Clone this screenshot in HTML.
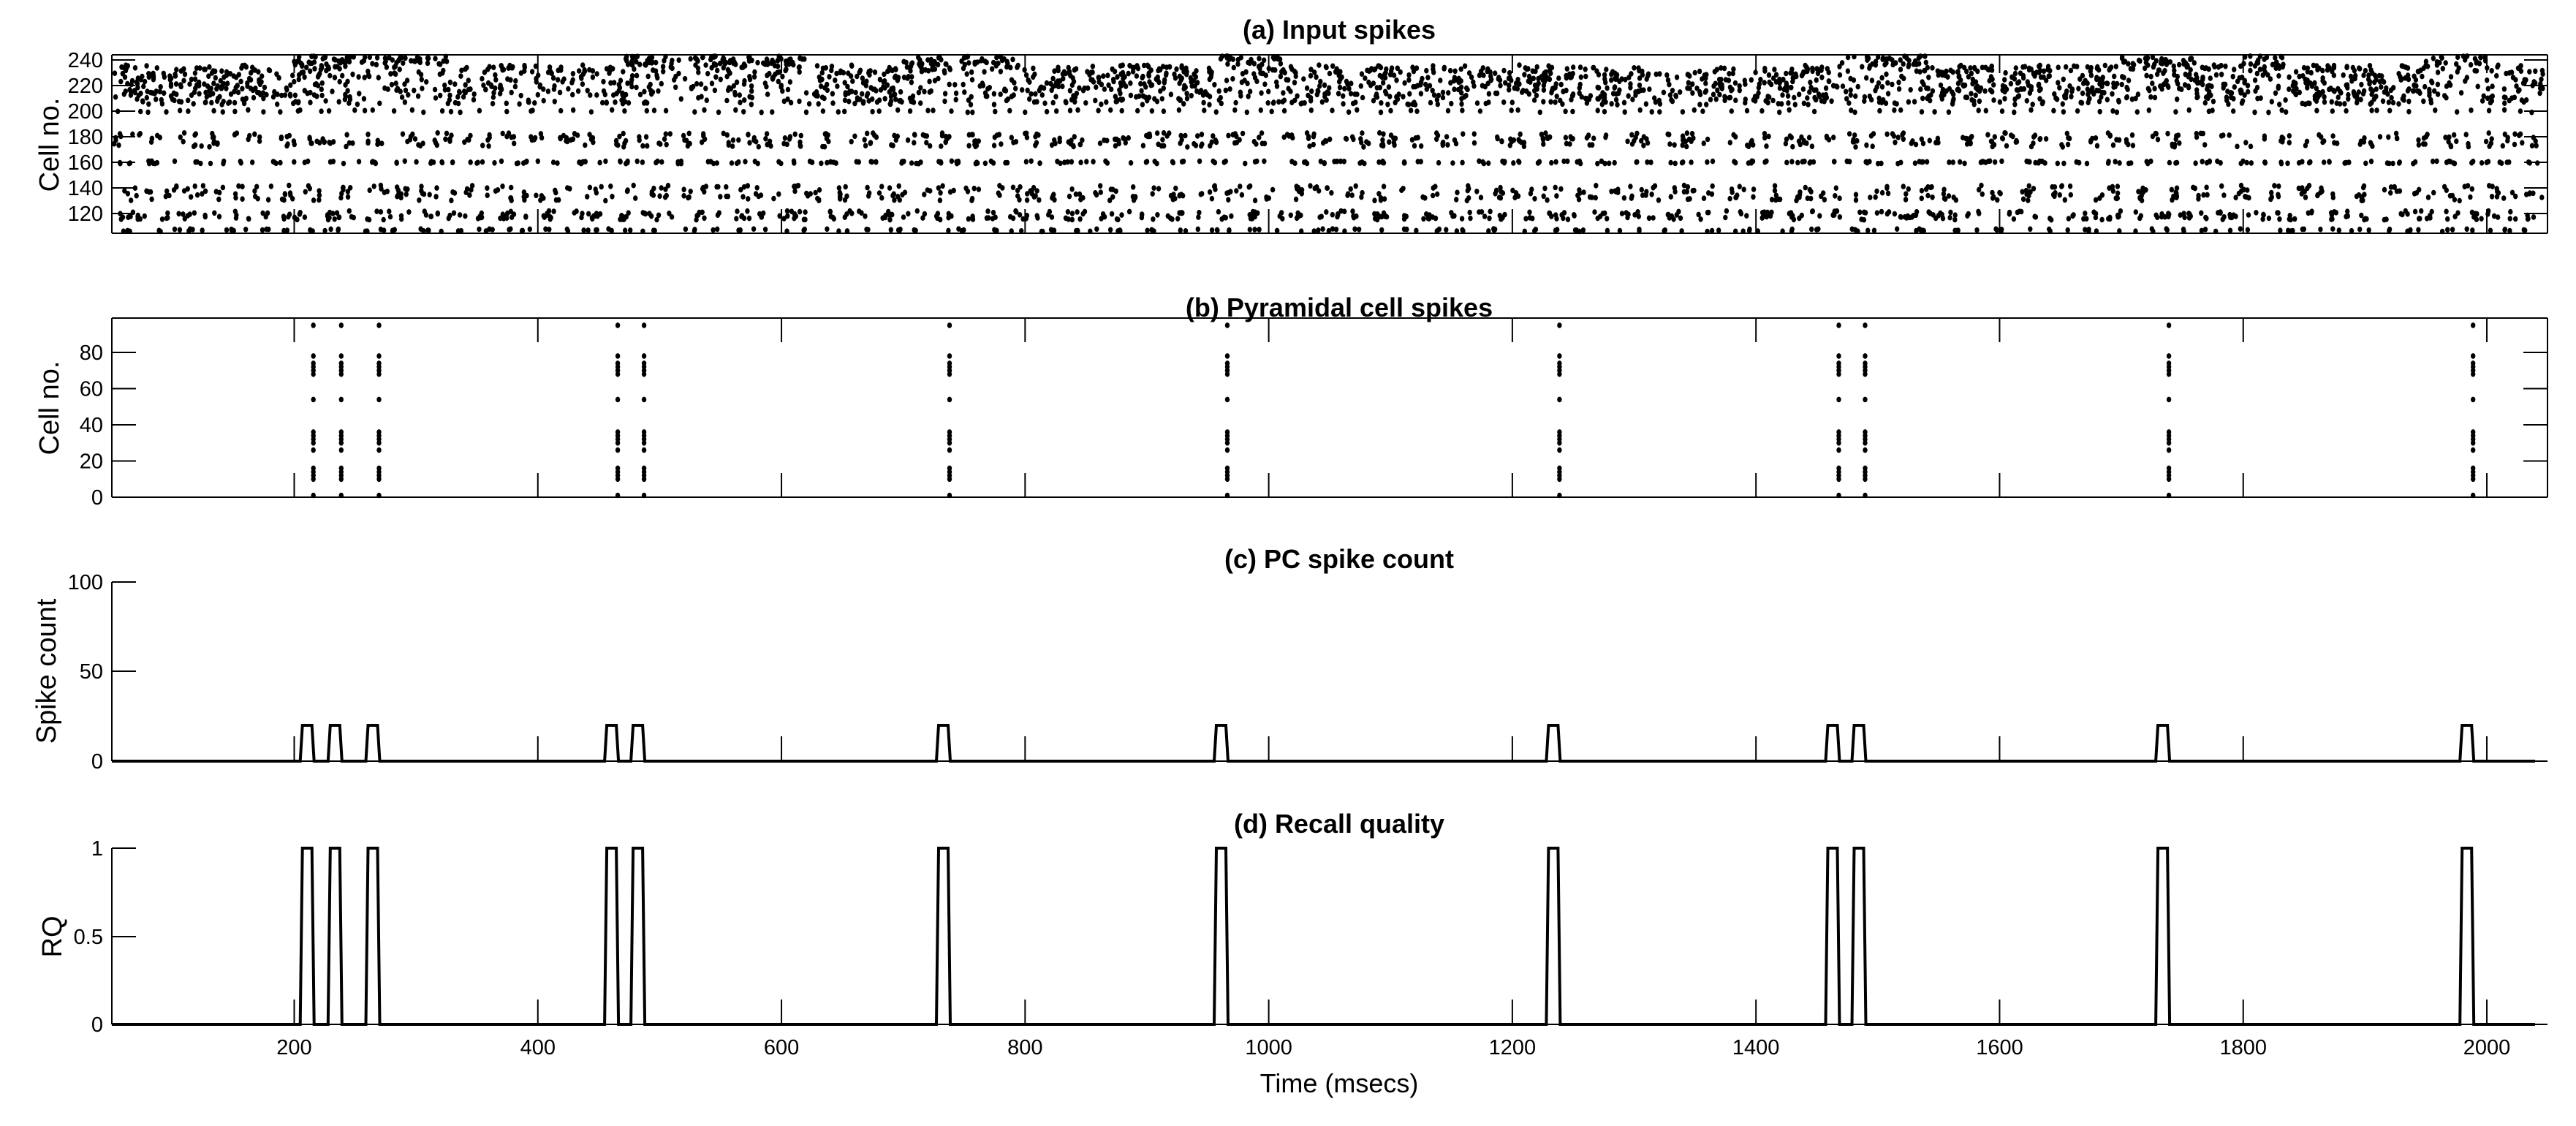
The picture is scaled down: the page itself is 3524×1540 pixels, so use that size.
<!DOCTYPE html>
<html><head><meta charset="utf-8"><style>
html,body{margin:0;padding:0;background:#fff;}
svg{display:block;}
text{font-family:"Liberation Sans",sans-serif;fill:#000;}
</style></head><body>
<svg id="s" xmlns="http://www.w3.org/2000/svg" width="3524" height="1540" viewBox="0 0 3524 1540">
<rect width="3524" height="1540" fill="#fff"/>
<text x="1832" y="53" font-size="36" font-weight="bold" text-anchor="middle">(a) Input spikes</text>
<text x="1832" y="433" font-size="36" font-weight="bold" text-anchor="middle">(b) Pyramidal cell spikes</text>
<text x="1832" y="777" font-size="36" font-weight="bold" text-anchor="middle">(c) PC spike count</text>
<text x="1832" y="1139" font-size="36" font-weight="bold" text-anchor="middle">(d) Recall quality</text>
<text x="1832" y="1494" font-size="36" text-anchor="middle">Time (msecs)</text>
<text transform="translate(80,198) rotate(-90)" font-size="38" text-anchor="middle">Cell no.</text>
<text transform="translate(80,558) rotate(-90)" font-size="38" text-anchor="middle">Cell no.</text>
<text transform="translate(76,918) rotate(-90)" font-size="38" text-anchor="middle">Spike count</text>
<text transform="translate(84,1281) rotate(-90)" font-size="38" text-anchor="middle">RQ</text>
<g id="g"></g>
</svg>
<script>
(function(){
var g=document.getElementById('g'),out='';
function X(t){return 402.5+(t-200)*1.6664;}
var L=153,R=3485,R2=3485,RD=3468;
function line(x1,y1,x2,y2,w){out+='<line x1="'+x1+'" y1="'+y1+'" x2="'+x2+'" y2="'+y2+'" stroke="#000" stroke-width="'+(w||2)+'"/>';}
function txt(x,y,s,anc){out+='<text x="'+x+'" y="'+y+'" font-size="29" text-anchor="'+(anc||'end')+'">'+s+'</text>';}
function dot(x,y){out+='<ellipse cx="'+x.toFixed(1)+'" cy="'+y.toFixed(1)+'" rx="3.2" ry="3.8"/>';}
var seed=12345;function rnd(){seed=(seed*16807)%2147483647;return (seed-1)/2147483646;}
var TMAX=2046;
var aT=75,aB=319;function Ya(c){return aT+(244-c)*1.75;}
line(L,aT,R,aT);line(L,aB,R,aB);line(L,aT,L,aB);line(R,aT,R,aB);
for(var c=120;c<=240;c+=20){var y=Ya(c);line(L,y,L+32,y);line(R-32,y,R,y);txt(141,y+10,c);}
for(var t=200;t<=2000;t+=200){line(X(t),aT,X(t),aT+25);line(X(t),aB-33,X(t),aB);}
function band(lo,hi,rate,clus){
 for(var t=50;t<TMAX;t+=clus){
  var n=Math.round(rate*clus*(0.5+rnd()));
  var ct=t+rnd()*clus;
  for(var i=0;i<n;i++){var tt=ct+(rnd()-0.5)*clus*0.6;if(tt<51||tt>TMAX)continue;
   var cc=lo+rnd()*(hi-lo);dot(X(tt),Ya(cc));}
 }
}
var top=[[200,330],[470,620],[700,790],[960,1010],[1470,1540],[1700,1760],[1800,1840],[1950,2000]];
for(var t=50;t<TMAX;t+=10){
 var up=false;for(var k=0;k<top.length;k++)if(t>=top[k][0]&&t<top[k][1])up=true;
 var n=Math.round(13*(0.5+rnd()));
 for(var i=0;i<n;i++){var tt=t+rnd()*10;if(tt<51||tt>TMAX)continue;
  var cc=up&&rnd()<0.4?236+rnd()*7:205+rnd()*31;dot(X(tt),Ya(cc));}
}
band(199,201,0.07,12);
band(172,183,0.33,12);
band(159,161,0.17,12);
band(130,142,0.3,12);
band(115,122,0.27,12);
band(106,108,0.13,14);
var bT=435,bB=680;function Yb(c){return bB-c*2.475;}
line(L,bT,R,bT);line(L,bB,R,bB);line(L,bT,L,bB);line(R,bT,R,bB);
for(var c=0;c<=80;c+=20){var y=Yb(c);line(L,y,L+33,y);line(R-33,y,R,y);txt(141,y+10,c);}
for(var t=200;t<=2000;t+=200){line(X(t),bT,X(t),bT+33);line(X(t),bB-33,X(t),bB);}
var sp=[215.7,238.6,269.6,465.6,487.2,738,966,1238.7,1468,1489.6,1739,1988.7];
var cells=[1,10,12,14,16,26,30,32,34,36,54,68,70,72,74,78,95];
sp.forEach(function(s){cells.forEach(function(c){dot(X(s),Yb(c));});});
function pulses(yb,yt){
 var d='M'+L+' '+yb;
 sp.forEach(function(s){var x=X(s);d+=' L'+(x-18).toFixed(1)+' '+yb+' L'+(x-15).toFixed(1)+' '+yt+' L'+(x-2).toFixed(1)+' '+yt+' L'+(x+1).toFixed(1)+' '+yb;});
 d+=' L'+RD+' '+yb;
 out+='<path d="'+d+'" fill="none" stroke="#000" stroke-width="4"/>';
}
var cB=1041;line(L,796,L,cB);line(L,cB,R2,cB);
[[0,cB],[50,918],[100,796]].forEach(function(a){line(L,a[1],L+33,a[1]);txt(141,a[1]+10,a[0]);});
for(var t=200;t<=2000;t+=200)line(X(t),cB-34,X(t),cB);
pulses(cB,992);
var dB=1401;line(L,1160,L,dB);line(L,dB,R2,dB);
[[0,dB],['0.5',1281],[1,1160]].forEach(function(a){line(L,a[1],L+33,a[1]);txt(141,a[1]+10,a[0]);});
for(var t=200;t<=2000;t+=200){line(X(t),dB-34,X(t),dB);txt(X(t),1442,t,'middle');}
pulses(dB,1160);
g.innerHTML=out;
})();
</script>
</body></html>
